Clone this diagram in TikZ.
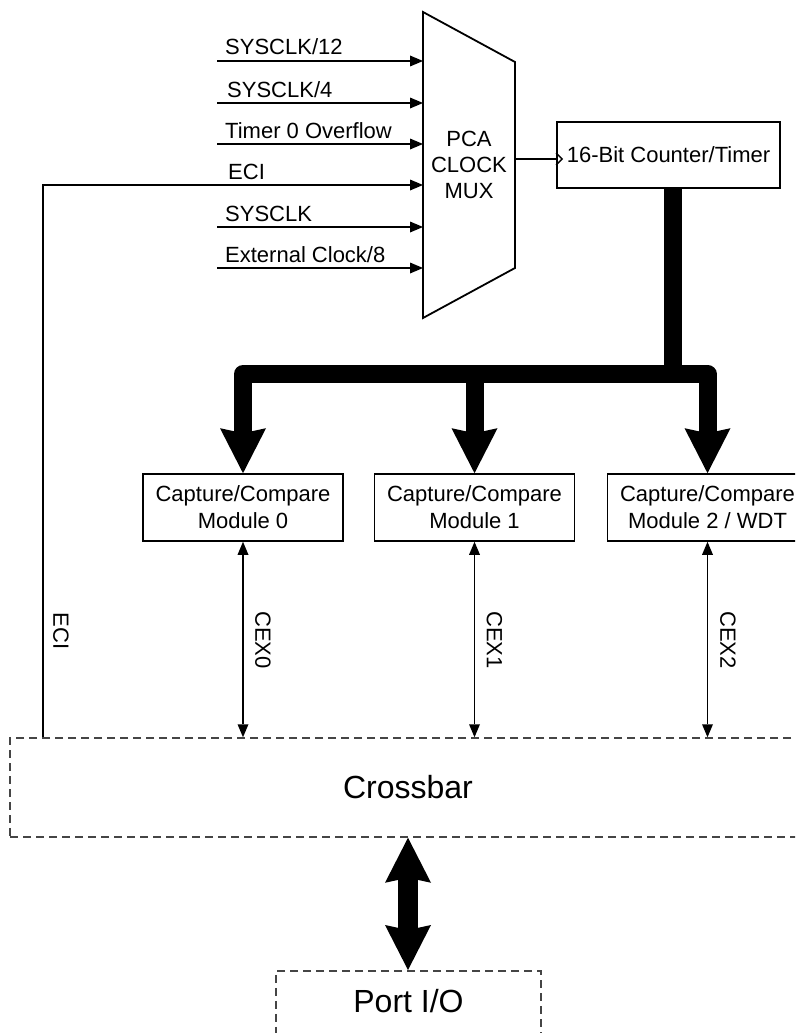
\documentclass[tikz,border=0pt]{standalone}
\usepackage{fontspec}
\setmainfont{Liberation Sans}
\usetikzlibrary{arrows.meta}
\definecolor{dgray}{HTML}{454545}
\tikzset{
  bighead/.tip={Stealth[length=45pt,width=46pt,inset=5pt,line width=0pt]},
  smallhead/.tip={Triangle[length=13pt,width=11pt,line width=0pt]}
}
\begin{document}
\begin{tikzpicture}[x=1pt,y=-1pt,
  every node/.style={font=\fontsize{22}{27}\selectfont, inner sep=0pt},
  boxst/.style={draw, line width=1.6pt, align=center},
  dboxst/.style={draw=dgray, line width=1.5pt, dash pattern=on 8pt off 5pt},
  sig/.style={line width=1.8pt, -smallhead},
  dsig/.style={line width=1.8pt, smallhead-smallhead},
  busst/.style={line width=18pt, line join=round},
  lbl/.style={anchor=base west},
  biglbl/.style={font=\fontsize{32}{38}\selectfont}
]
\path[use as bounding box] (0,0) rectangle (795,1033);
\clip (0,0) rectangle (795,1033);

% ---- clock mux ----
\coordinate (m1) at (423,12);
\coordinate (m2) at (515,62);
\coordinate (m3) at (515,268);
\coordinate (m4) at (423,318);
\draw[line width=1.8pt, line join=miter] (m1) -- (m2) -- (m3) -- (m4) -- cycle;
\node[align=center, font=\fontsize{22}{26}\selectfont] (muxt) at (469,165) {PCA\\CLOCK\\MUX};

% ---- nodes ----
\node[boxst, minimum width=223pt, minimum height=66pt] (cnt) at (668.5,155) {16-Bit Counter/Timer};
\node[boxst, minimum width=200pt, minimum height=67pt] (cc0) at (243,507.5) {Capture/Compare\\Module 0};
\node[boxst, minimum width=200pt, minimum height=67pt] (cc1) at (474.5,507.5) {Capture/Compare\\Module 1};
\node[boxst, minimum width=200pt, minimum height=67pt] (cc2) at (707.5,507.5) {Capture/Compare\\Module 2 / WDT};
\node[dboxst, biglbl, minimum width=796pt, minimum height=99pt] (xb) at (408,787.5) {Crossbar};
\node[dboxst, anchor=north, minimum width=265pt, minimum height=90pt] (port) at (408.5,970) {};
\node[biglbl] (portt) at (408.5,1001) {Port I/O};

% ---- mux inputs ----
\coordinate (i1) at (423,61);  \coordinate (s1) at (217,61);
\coordinate (i2) at (423,103); \coordinate (s2) at (217,103);
\coordinate (i3) at (423,144); \coordinate (s3) at (217,144);
\coordinate (i4) at (423,185);
\coordinate (i5) at (423,227); \coordinate (s5) at (217,227);
\coordinate (i6) at (423,268); \coordinate (s6) at (217,268);
\draw[sig] (s1) -- (i1);
\draw[sig] (s2) -- (i2);
\draw[sig] (s3) -- (i3);
\draw[sig] (s5) -- (i5);
\draw[sig] (s6) -- (i6);
\node[lbl] (t1) at (225,55) {SYSCLK/12};
\node[lbl] (t2) at (227,97) {SYSCLK/4};
\node[lbl] (t3) at (225,138) {Timer 0 Overflow};
\node[lbl] (t4) at (228,179) {ECI};
\node[lbl] (t5) at (225,221) {SYSCLK};
\node[lbl] (t6) at (225,262) {External Clock/8};

% ECI feed from crossbar
\coordinate (ecix) at (43,0);
\draw[sig] (xb.north -| ecix) |- (i4);
\node[rotate=-90] (ecil) at (61,631) {ECI};

% ---- mux output to counter ----
\coordinate (mo) at (515,159);
\coordinate (ck) at (cnt.west |- mo);
\draw[line width=1.8pt] (mo) -- (ck);
\draw[line width=1.4pt] ([yshift=6pt]ck) -- ([xshift=6pt]ck) -- ([yshift=-6pt]ck);

% ---- bus ----
\coordinate (bary) at (0,374);
\coordinate (bt) at ([xshift=4.5pt]cnt.south);
\draw[busst] (bt) -- (bt |- bary);
\draw[busst, bighead-bighead] (cc0.north) -- (cc0.north |- bary) -- (cc2.north |- bary) -- (cc2.north);
\draw[busst, -bighead] (cc1.north |- bary) -- (cc1.north);

% ---- CEX lines ----
\draw[dsig] (cc0.south) -- (cc0.south |- xb.north);
\draw[dsig] (cc1.south) -- (cc1.south |- xb.north);
\draw[dsig] (cc2.south) -- (cc2.south |- xb.north);
\node[rotate=-90] (cex0) at (263,640) {CEX0};
\node[rotate=-90] (cex1) at (494.5,640) {CEX1};
\node[rotate=-90] (cex2) at (728,640) {CEX2};

% ---- crossbar to port ----
\draw[line width=20pt, bighead-bighead] (xb.south) -- (xb.south |- port.north);
\end{tikzpicture}
\end{document}
